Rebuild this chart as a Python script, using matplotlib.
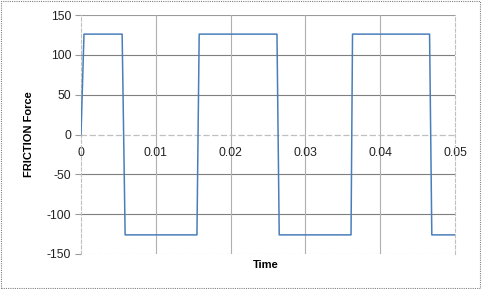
import numpy as np
import matplotlib.pyplot as plt
from matplotlib.patches import Rectangle

# friction force square wave
time = [0, 0.0004, 0.0055, 0.0059, 0.0155, 0.0158, 0.0262, 0.0265,
        0.0361, 0.0363, 0.0466, 0.0469, 0.05]
force = [0, 126, 126, -126, -126, 126, 126, -126, -126, 126, 126, -126, -126]

x_ticks = [0, 0.01, 0.02, 0.03, 0.04, 0.05]
x_labels = ['0', '0.01', '0.02', '0.03', '0.04', '0.05']
y_ticks = [-150, -100, -50, 0, 50, 100, 150]

plt.rcParams['font.family'] = ['Liberation Sans', 'DejaVu Sans']
plt.rcParams['axes.unicode_minus'] = False

fig = plt.figure(figsize=(4.82, 2.89), dpi=100)
ax = fig.add_axes([81 / 482, 1 - 254 / 289, 374 / 482, 239 / 289])

ax.set_xlim(0, 0.05)
ax.set_ylim(-150, 150)

# gridlines
for y in [-100, -50, 50, 100]:
    ax.axhline(y, color='#7f7f7f', lw=0.8, zorder=1)
ax.axhline(150, color='#9a9a9a', lw=0.8, zorder=1)
ax.axhline(-150, color='#c0c0c0', lw=0.8, ls=(0, (3, 2)), zorder=1)
for x in x_ticks[1:-1]:
    ax.axvline(x, color='#b0b0b0', lw=0.8, zorder=1)

ax.plot(time, force, color='#4a7ebb', lw=1.1, zorder=3)

# spines
for s in ['left', 'right']:
    ax.spines[s].set_color('#c0c0c0')
    ax.spines[s].set_linestyle((0, (3, 2)))
    ax.spines[s].set_linewidth(0.8)
ax.spines['top'].set_visible(False)
ax.spines['bottom'].set_position(('data', 0))
ax.spines['bottom'].set_color('#c0c0c0')
ax.spines['bottom'].set_linestyle((0, (4, 3)))
ax.spines['bottom'].set_linewidth(0.9)

ax.set_xticks(x_ticks)
ax.set_xticklabels(x_labels)
ax.set_yticks(y_ticks)
ax.tick_params(axis='x', length=0, pad=9, labelsize=8.8, colors='#222222')
ax.tick_params(axis='y', length=4, width=0.8, color='#9a9a9a', pad=3,
               labelsize=8.8, labelcolor='#222222')

ax.set_ylabel('FRICTION Force', fontsize=8, fontweight='bold')
ax.yaxis.set_label_coords(-0.125, 0.5)
fig.text(266 / 482, 1 - 265 / 289, 'Time', fontsize=8, fontweight='bold',
         ha='center', va='center')

# outer chart border
fig.patches.append(Rectangle((0.002, 0.003), 0.994, 0.994,
                             transform=fig.transFigure, fill=False,
                             edgecolor='#808080', lw=0.8, ls=(0, (1, 1))))

fig.savefig('out.png', dpi=100)
